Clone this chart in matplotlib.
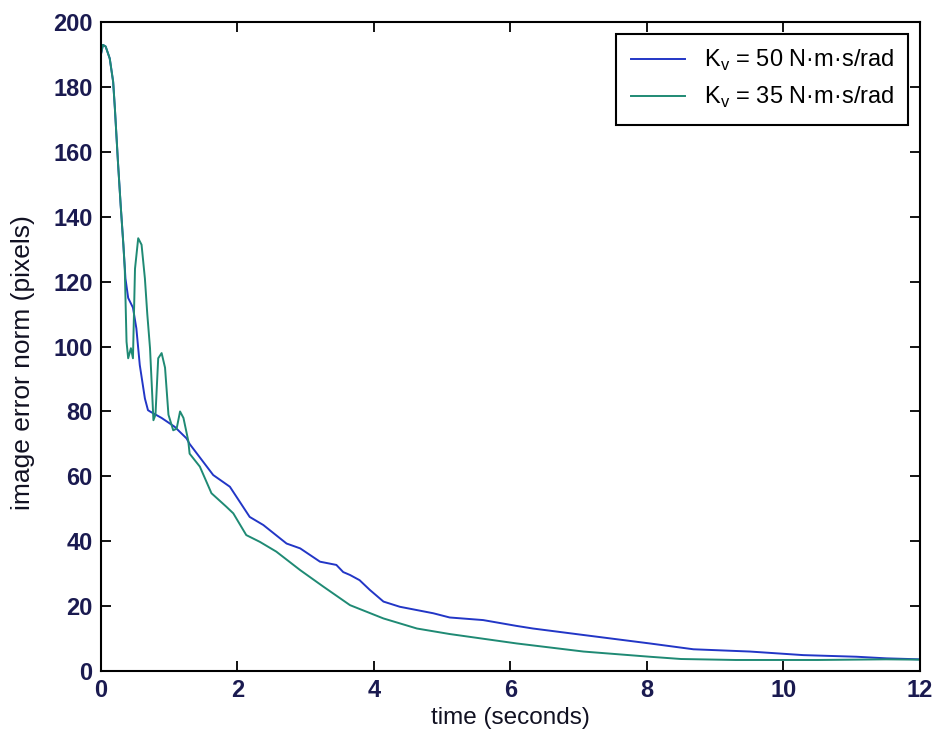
import matplotlib.pyplot as plt

# image error norm vs time for two damping gains
t_50 = [0, 0.03, 0.07, 0.13, 0.18, 0.205, 0.25, 0.29, 0.33, 0.36, 0.40, 0.47, 0.52,
        0.57, 0.645, 0.69, 0.72, 0.89, 1.08, 1.255, 1.30, 1.646, 1.89, 2.18, 2.38,
        2.72, 2.92, 3.21, 3.45, 3.55, 3.65, 3.79, 3.94, 4.14, 4.38, 4.87, 5.11, 5.6,
        6.09, 6.33, 7.07, 8.04, 8.68, 9.51, 10.29, 11.07, 11.51, 12]
err_50 = [190, 193, 192.5, 188.8, 181.6, 173.5, 157, 143.6, 131.3, 121, 115, 112, 105.6,
          94.3, 84, 80.4, 80, 78, 75.3, 71.7, 70, 60.4, 56.8, 47.5, 45,
          39.3, 37.8, 33.7, 32.7, 30.5, 29.6, 28, 25, 21.4, 19.8, 17.8, 16.5, 15.7,
          13.9, 13.1, 11.1, 8.5, 6.7, 6.0, 4.9, 4.4, 3.9, 3.6]

t_35 = [0, 0.03, 0.07, 0.13, 0.18, 0.205, 0.25, 0.29, 0.33, 0.35, 0.376, 0.40, 0.44,
        0.47, 0.50, 0.547, 0.596, 0.645, 0.68, 0.72, 0.77, 0.80, 0.84, 0.89, 0.94,
        0.99, 1.06, 1.11, 1.16, 1.21, 1.28, 1.30, 1.45, 1.62, 1.84, 1.94, 2.13, 2.33,
        2.57, 2.92, 3.26, 3.65, 4.14, 4.63, 5.11, 6.09, 7.07, 8.04, 8.5, 9.3, 10.5,
        11.5, 12]
err_35 = [190, 193, 192.5, 188.8, 181.6, 173.5, 157, 143.6, 131.3, 124, 101.5, 96.4, 99.5,
          96.4, 124, 133.4, 131.4, 121, 110, 99.5, 77.3, 79, 96.4, 98, 93.5,
          79, 74.2, 74.7, 80, 78, 71, 67, 63, 54.8, 50.6, 48.6, 41.9, 39.8,
          36.8, 31.1, 26, 20.3, 16.2, 13.1, 11.4, 8.5, 6.0, 4.4, 3.7, 3.4, 3.4,
          3.6, 3.5]

labels = ['K$_\\mathregular{v}$ = 50 N·m·s/rad', 'K$_\\mathregular{v}$ = 35 N·m·s/rad']

plt.rcParams['font.family'] = ['Liberation Sans', 'DejaVu Sans']

fig = plt.figure(figsize=(9.34, 7.39), dpi=100)
ax = fig.add_axes([0.108, 0.092, 0.877, 0.878])

ax.plot(t_50, err_50, color='#2236c6', lw=1.4, label=labels[0])
ax.plot(t_35, err_35, color='#1f8a74', lw=1.4, label=labels[1])

ax.set_xlim(0, 12)
ax.set_ylim(0, 200)
ax.set_xticks(range(0, 13, 2))
ax.set_yticks(range(0, 201, 20))

ax.tick_params(direction='in', length=7, width=1.3, top=True, right=True,
               labelsize=17, labelcolor='#1a1a50', pad=6)
for lab in ax.get_xticklabels() + ax.get_yticklabels():
    lab.set_fontweight('bold')
for sp in ax.spines.values():
    sp.set_linewidth(1.5)

ax.set_xlabel('time (seconds)', fontsize=17.5, color='#111122', labelpad=3)
ax.set_ylabel('image error norm (pixels)', fontsize=19, color='#111122')
ax.yaxis.set_label_coords(-0.08, 0.476)

leg = ax.legend(loc='upper right', fontsize=17, handlelength=2.3, handletextpad=0.8,
                fancybox=False, framealpha=1, edgecolor='black', borderaxespad=0.5,
                borderpad=0.6, labelspacing=0.5)
leg.get_frame().set_linewidth(1.5)

fig.savefig('out.png', dpi=100)
